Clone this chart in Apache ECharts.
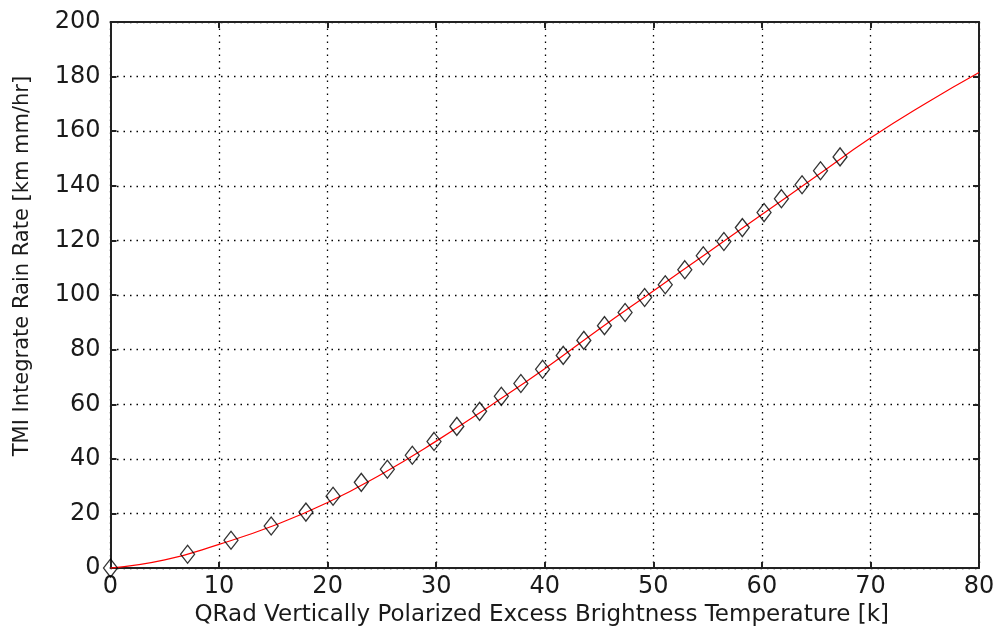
<!DOCTYPE html>
<html><head><meta charset="utf-8">
<script src="https://cdn.jsdelivr.net/npm/echarts@6/dist/echarts.min.js"></script>
<style>html,body{margin:0;padding:0;background:#fff}#c{width:1000px;height:632px}</style>
</head><body><div id="c"></div>
<script>
var xTicks = [0,10,20,30,40,50,60,70,80];
var yTicks = [0,20,40,60,80,100,120,140,160,180,200];
var scatterX = [0,7.1,11.1,14.8,18.0,20.5,23.1,25.5,27.8,29.8,31.9,34.0,36.0,37.8,39.8,41.7,43.6,45.5,47.4,49.2,51.1,52.9,54.6,56.5,58.2,60.2,61.8,63.7,65.4,67.2];
var scatterY = [0,5.1,10.2,15.4,20.5,26.3,31.4,36.2,41.3,46.4,51.9,57.4,62.9,67.6,72.8,77.9,83.4,88.8,93.6,99.1,103.8,109.3,114.4,119.6,124.7,130.2,135.3,140.4,145.5,150.6];
var fitX = [0,5,10,15,20,25,30,35,40,45,50,55,60,65,70,75,80];
var fitY = [0,3,8.7,15.5,24,34.5,46.5,59.5,73,87.5,101.5,115.5,129.5,143.5,157.5,170,181.5];
var xTitle = 'QRad Vertically Polarized Excess Brightness Temperature [k]';
var yTitle = 'TMI Integrate Rain Rate [km mm/hr]';

var font = 'DejaVu Sans, Verdana, sans-serif';
var textCol = '#1a1a1a';
var lineCol = '#222';
function pairs(a,b){return a.map(function(v,i){return [v,b[i]];});}
var grid = {left:110.5, right:21, top:22, bottom:63};
var gridLineStyle = {color:'#000', width:1.3, type:[1.5,5]};
var chart = echarts.init(document.getElementById('c'), null, {renderer:'canvas'});
chart.setOption({
  animation:false,
  backgroundColor:'#fff',
  grid: grid,
  xAxis: [{
    type:'value', min:xTicks[0], max:xTicks[xTicks.length-1], interval:xTicks[1]-xTicks[0],
    name:xTitle, nameLocation:'middle', nameGap:34,
    nameTextStyle:{fontFamily:font, fontSize:23, color:textCol, padding:[0,6,0,0]},
    axisLine:{show:true, onZero:false, lineStyle:{color:lineCol, width:2}},
    axisTick:{show:true, inside:true, length:6, lineStyle:{color:lineCol, width:2}},
    axisLabel:{fontFamily:font, fontSize:24, color:textCol, margin:7},
    splitLine:{show:true, lineStyle:gridLineStyle}
  },{
    type:'value', min:xTicks[0], max:xTicks[xTicks.length-1], interval:xTicks[1]-xTicks[0], position:'top',
    axisLine:{show:true, onZero:false, lineStyle:{color:lineCol, width:2}},
    axisTick:{show:true, inside:true, length:6, lineStyle:{color:lineCol, width:2}},
    axisLabel:{show:false}, splitLine:{show:false}
  }],
  yAxis: [{
    type:'value', min:yTicks[0], max:yTicks[yTicks.length-1], interval:yTicks[1]-yTicks[0],
    name:yTitle, nameLocation:'middle', nameGap:77,
    nameTextStyle:{fontFamily:font, fontSize:21, color:textCol, padding:[0,0,0,58]},
    axisLine:{show:true, onZero:false, lineStyle:{color:lineCol, width:2}},
    axisTick:{show:true, inside:true, length:6, lineStyle:{color:lineCol, width:2}},
    axisLabel:{fontFamily:font, fontSize:24, color:textCol, margin:10},
    splitLine:{show:true, lineStyle:gridLineStyle}
  },{
    type:'value', min:yTicks[0], max:yTicks[yTicks.length-1], interval:yTicks[1]-yTicks[0], position:'right',
    axisLine:{show:true, onZero:false, lineStyle:{color:lineCol, width:2}},
    axisTick:{show:true, inside:true, length:6, lineStyle:{color:lineCol, width:2}},
    axisLabel:{show:false}, splitLine:{show:false}
  }],
  series: [{
    type:'line', data:pairs(fitX, fitY), smooth:true, showSymbol:false,
    lineStyle:{color:'#ff0000', width:1.2}, z:3
  },{
    type:'scatter', data:pairs(scatterX, scatterY), symbol:'diamond', symbolSize:[14,18],
    itemStyle:{color:'rgba(0,0,0,0)', borderColor:'#000', borderWidth:1.3}, z:4
  }]
});
</script></body></html>
